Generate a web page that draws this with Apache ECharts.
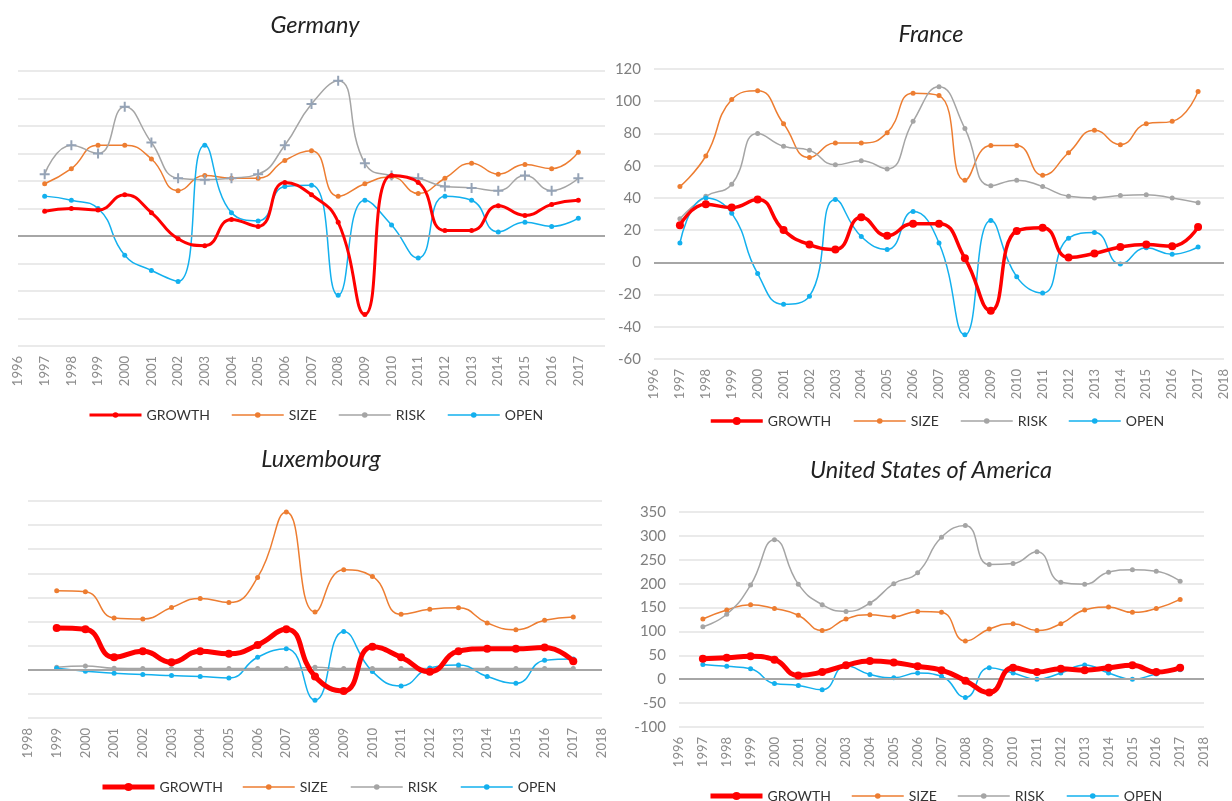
<!DOCTYPE html>
<html>
<head>
<meta charset="utf-8">
<script src="https://cdn.jsdelivr.net/npm/echarts@6/dist/echarts.min.js"></script>
<style>
  html, body { margin: 0; background: #fff; }
  #chart { width: 1232px; height: 801px; }
</style>
</head>
<body>
<div id="chart"></div>
<script>
const names = ['GROWTH', 'SIZE', 'RISK', 'OPEN']
const colors = ['#ff0000', '#ed7d31', '#a5a5a5', '#13b0ee']

const years = [1997, 1998, 1999, 2000, 2001, 2002, 2003, 2004, 2005, 2006, 2007,
  2008, 2009, 2010, 2011, 2012, 2013, 2014, 2015, 2016, 2017]
const luYears = years.slice(2)

// Germany
const deGrowth = [18, 20, 19, 30, 17, -2, -7, 12, 7, 39, 30, 10, -57, 44, 39, 4, 4, 22, 15, 23, 26]
const deSize = [38, 49, 66, 66, 56, 33, 44, 42, 42, 55, 62, 29, 38, 43, 31, 42, 53, 45, 52, 49, 61]
const deRisk = [45, 66, 60, 94, 68, 42, 41, 42, 45, 66, 96, 113, 53, 44, 42, 36, 35, 33, 44, 33, 42]
const deOpen = [29, 26, 20, -14, -25, -33, 66, 17, 11, 36, 37, -43, 26, 8, -16, 29, 26, 3, 10, 7, 13]

// France
const frGrowth = [23, 36, 34, 39, 20, 11, 8, 28, 16.5, 24, 24, 2.5, -30, 19.5, 21.5, 3, 5.5, 9.5, 11, 10, 22]
const frSize = [47, 66, 101, 106.5, 86, 65, 74, 74, 80.5, 105, 103.5, 51, 72.5, 72.5, 54, 68, 82, 73, 86, 87.5, 106]
const frRisk = [27, 41, 48.5, 80, 72, 69.5, 60.5, 63, 58, 87.5, 109, 83, 47.5, 51, 47, 41, 40, 41.5, 42, 40, 37]
const frOpen = [12, 40, 30.5, -7, -26, -21, 39, 16, 8, 31.5, 12, -45, 26, -9, -19, 15, 18.5, -1, 9, 5, 9.5]

// Luxembourg (1999-2017)
const luGrowth = [17.3, 16.8, 5.2, 7.7, 3.1, 7.7, 6.6, 10.3, 16.8, -2.8, -8.8, 9.6, 5.2, -0.8, 7.7, 8.7, 8.7, 9.2, 3.5]
const luSize = [32.8, 32.4, 21.5, 21.1, 25.8, 29.6, 27.9, 38.3, 65.4, 24, 41.5, 38.7, 23, 25.1, 25.7, 19.4, 16.6, 20.5, 21.9]
const luRisk = [1, 1.6, 0.6, 0.5, 0.5, 0.5, 0.5, 0.5, 0.5, 1, 0.5, 0.5, 0.5, 0.5, 0.5, 0.5, 0.5, 0.5, 0.5]
const luOpen = [0.6, -0.6, -1.4, -2, -2.4, -2.8, -3.4, 5.2, 8.7, -12.6, 15.9, -0.7, -6.7, 0.7, 2, -2.8, -5.6, 3.9, 4.5]

// United States of America
const usGrowth = [43, 45, 48, 41, 8, 15, 29, 38, 35, 27, 19, -3, -28, 24, 15, 22, 19, 24, 29, 15, 24]
const usSize = [126, 145, 156, 148, 134, 102, 126, 135, 131, 142, 140, 80, 105, 116, 102, 116, 145, 151, 140, 148, 167]
const usRisk = [110, 136, 197, 292, 199, 156, 142, 159, 200, 223, 297, 322, 240, 242, 267, 203, 199, 224, 229, 226, 205]
const usOpen = [31, 27, 22, -9, -13, -22, 28, 10, 3, 13, 6, -38, 24, 13, 0, 13, 30, 13, 0, 11, 20]

const panels = [
  {
    title: 'France', tx: 926, ty: 31,
    grid: { left: 654, top: 69, width: 570, height: 290 },
    xMin: 1996, xMax: 2018, yMin: -60, yMax: 120, step: 20, yLabels: true,
    xs: years, data: [frGrowth, frSize, frRisk, frOpen],
    gw: 3.5, gs: 8, gl: 10, legX: [704, 848, 955, 1063], legY: 417
  },
  {
    title: 'Germany', tx: 310, ty: 22,
    grid: { left: 18, top: 71, width: 587, height: 275 },
    xMin: 1996, xMax: 2018, yMin: -80, yMax: 120, step: 20, yLabels: false,
    xs: years, data: [deGrowth, deSize, deRisk, deOpen], hideLast: true,
    gw: 3, gs: 5, gl: 7, riskPlus: true, legX: [83, 226, 333, 442], legY: 411
  },
  {
    title: 'Luxembourg', tx: 316, ty: 456,
    grid: { left: 28, top: 501, width: 574, height: 217 },
    xMin: 1998, xMax: 2018, yMin: -20, yMax: 70, step: 10, yLabels: false,
    xs: luYears, data: [luGrowth, luSize, luRisk, luOpen],
    gw: 5, gs: 8, gl: 10, legX: [95, 237, 345, 455], legY: 783
  },
  {
    title: 'United States of America', tx: 926, ty: 467,
    grid: { left: 679, top: 512, width: 525, height: 215 },
    xMin: 1996, xMax: 2018, yMin: -100, yMax: 350, step: 50, yLabels: true,
    xs: years, data: [usGrowth, usSize, usRisk, usOpen],
    gw: 5, gs: 8, gl: 10, legX: [703, 846, 952, 1061], legY: 792
  }
]

const plus = 'path://M4,0 L6,0 L6,4 L10,4 L10,6 L6,6 L6,10 L4,10 L4,6 L0,6 L0,4 L4,4 Z'
const font = 'Lato, "Open Sans", sans-serif'

const titles = panels.map((p) => ({
  text: p.title,
  left: p.tx,
  top: p.ty - 13,
  textAlign: 'center',
  textStyle: { fontFamily: font, fontStyle: 'italic', fontWeight: 'normal', fontSize: 23.5, color: '#222' }
}))

const xAxes = panels.map((p, i) => ({
  type: 'value',
  gridIndex: i,
  min: p.xMin,
  max: p.xMax,
  interval: 1,
  axisLine: { show: false },
  axisTick: { show: false },
  splitLine: { show: false },
  axisLabel: {
    rotate: 90,
    margin: 10,
    fontFamily: font,
    fontSize: 13,
    color: '#8c8c8c',
    showMinLabel: true,
    showMaxLabel: true,
    formatter: (v) => (p.hideLast && v === p.xMax ? '' : String(v))
  }
}))

const yAxes = panels.map((p, i) => ({
  type: 'value',
  gridIndex: i,
  min: p.yMin,
  max: p.yMax,
  interval: p.step,
  axisLine: { show: false },
  axisTick: { show: false },
  axisLabel: {
    show: p.yLabels,
    margin: 13,
    fontFamily: font,
    fontSize: 15,
    color: '#7f7f7f'
  },
  splitLine: { lineStyle: { color: '#e3e3e3', width: 1.5 } }
}))

const series = []
panels.forEach((p, i) => {
  p.data.forEach((vals, k) => {
    const growth = k === 0
    const s = {
      name: names[k],
      type: 'line',
      xAxisIndex: i,
      yAxisIndex: i,
      smooth: 0.5,
      data: p.xs.map((x, j) => [x, vals[j]]),
      symbol: 'circle',
      symbolSize: growth ? p.gs : 5,
      lineStyle: { color: colors[k], width: growth ? p.gw : 1.5 },
      itemStyle: { color: colors[k] },
      z: growth ? 5 : 3
    }
    if (k === 2 && p.riskPlus) {
      s.symbol = plus
      s.symbolSize = 10
      s.itemStyle = { color: '#95a3b6' }
    }
    series.push(s)
  })
  // zero line
  series.push({
    type: 'line',
    xAxisIndex: i,
    yAxisIndex: i,
    data: [],
    silent: true,
    z: 2,
    markLine: {
      silent: true,
      symbol: 'none',
      label: { show: false },
      lineStyle: { color: '#a6a6a6', width: 2, type: 'solid' },
      data: [{ yAxis: 0 }]
    }
  })
})

const legends = []
panels.forEach((p) => {
  names.forEach((n, k) => {
    const growth = k === 0
    legends.push({
      data: [{ name: n, lineStyle: { width: growth ? p.gw : 1.5, color: colors[k] }, itemStyle: { color: colors[k] } }],
      left: p.legX[k],
      top: p.legY - 8,
      itemWidth: 52,
      itemHeight: growth ? p.gl : 7,
      itemGap: 5,
      selectedMode: false,
      textStyle: { fontFamily: font, fontSize: 14, color: '#333' }
    })
  })
})

const chart = echarts.init(document.getElementById('chart'))
chart.setOption({
  backgroundColor: '#fff',
  animation: false,
  title: titles,
  grid: panels.map((p) => p.grid),
  xAxis: xAxes,
  yAxis: yAxes,
  legend: legends,
  series: series
})
</script>
</body>
</html>
